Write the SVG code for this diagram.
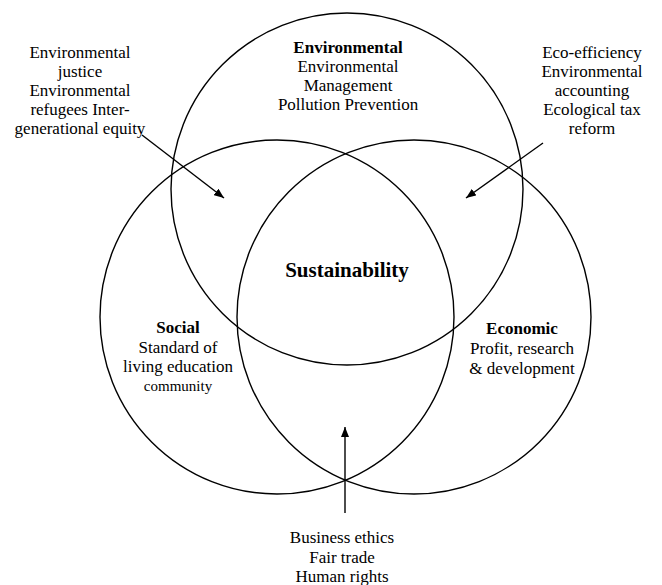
<svg xmlns="http://www.w3.org/2000/svg" width="662" height="585" viewBox="0 0 662 585">
  <style>
    .ring { fill: none; stroke: #000; stroke-width: 1.4; }
    .conn { fill: none; stroke: #000; stroke-width: 1.4; marker-end: url(#head); }
    text { font-family: "Liberation Serif", "Times New Roman", serif; fill: #000; text-anchor: middle; }
    .lbl { font-size: 17px; }
    .head { font-size: 17px; font-weight: bold; }
    .core { font-size: 21px; font-weight: bold; }
  </style>
  <defs>
    <marker id="head" viewBox="0 0 10 8" refX="10" refY="4" markerWidth="10" markerHeight="8" markerUnits="userSpaceOnUse" orient="auto">
      <path d="M0,0 L10,4 L0,8 Z" fill="#000"/>
    </marker>
  </defs>
  <rect width="662" height="585" fill="#fff"/>

  <!-- three overlapping pillars -->
  <g id="environmental">
    <circle class="ring" cx="347" cy="189" r="176"/>
    <text class="head" x="348" y="53">Environmental</text>
    <text class="lbl" x="348" y="72">Environmental</text>
    <text class="lbl" x="348" y="91">Management</text>
    <text class="lbl" x="348" y="110">Pollution Prevention</text>
  </g>
  <g id="social">
    <circle class="ring" cx="277" cy="317" r="177"/>
    <text class="head" x="178" y="333">Social</text>
    <text class="lbl" x="178" y="353">Standard of</text>
    <text class="lbl" x="178" y="372">living education</text>
    <text class="lbl" x="178" y="391" style="font-size:15px">community</text>
  </g>
  <g id="economic">
    <circle class="ring" cx="414" cy="317" r="177"/>
    <text class="head" x="522" y="334">Economic</text>
    <text class="lbl" x="522" y="354">Profit, research</text>
    <text class="lbl" x="522" y="374">&amp; development</text>
  </g>
  <g id="sustainability">
    <text class="core" x="347" y="277">Sustainability</text>
  </g>

  <!-- overlap annotations -->
  <g id="env-social">
    <text class="lbl" x="80" y="58">Environmental</text>
    <text class="lbl" x="80" y="77">justice</text>
    <text class="lbl" x="80" y="96">Environmental</text>
    <text class="lbl" x="80" y="115">refugees Inter-</text>
    <text class="lbl" x="80" y="134">generational equity</text>
  </g>
  <g id="env-economic">
    <text class="lbl" x="592" y="58">Eco-efficiency</text>
    <text class="lbl" x="592" y="77">Environmental</text>
    <text class="lbl" x="592" y="96">accounting</text>
    <text class="lbl" x="592" y="115">Ecological tax</text>
    <text class="lbl" x="592" y="134">reform</text>
  </g>
  <g id="social-economic">
    <text class="lbl" x="342" y="543">Business ethics</text>
    <text class="lbl" x="342" y="563">Fair trade</text>
    <text class="lbl" x="342" y="582">Human rights</text>
  </g>

  <!-- pointers into the overlaps -->
  <g id="connectors">
    <path class="conn" d="M142,135 L224,198"/>
    <path class="conn" d="M543,143 L466,198"/>
    <path class="conn" d="M345,513 L345,427"/>
  </g>
</svg>
